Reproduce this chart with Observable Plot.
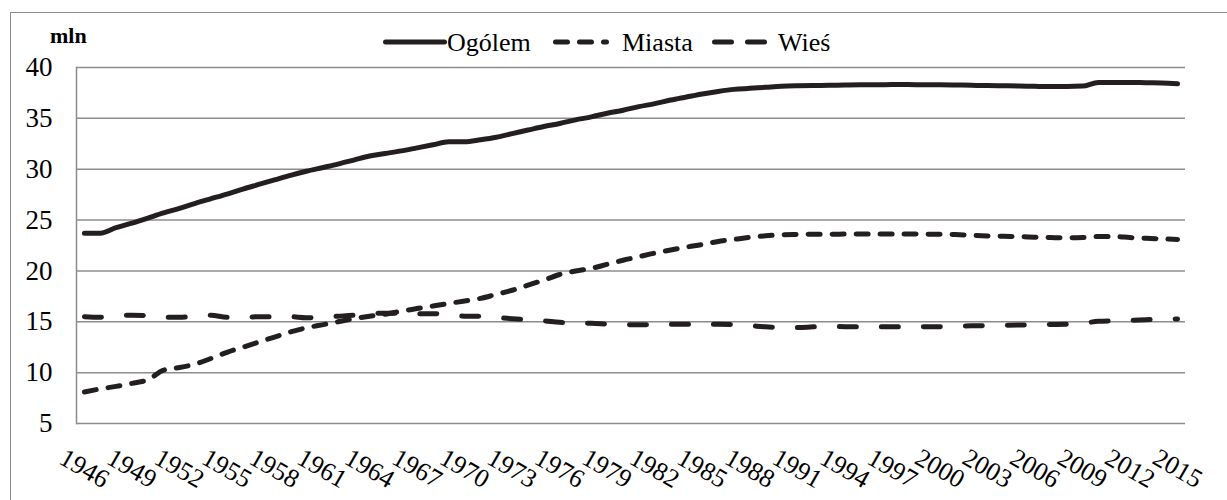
<!DOCTYPE html>
<html>
<head>
<meta charset="utf-8">
<script src="https://cdn.jsdelivr.net/npm/d3@7"></script>
<script src="https://cdn.jsdelivr.net/npm/@observablehq/plot@0.6"></script>
<style>
  body { margin: 0; background: #fff; }
  #wrap { position: relative; width: 1227px; height: 500px; overflow: hidden;
          font-family: "Liberation Serif", Tinos, "Times New Roman", "DejaVu Serif", serif; color: #000; }
  #border { position: absolute; left: 10px; top: 12px; width: 1400px; height: 700px;
            border-left: 1.5px solid #8c8c8c; border-top: 1.5px solid #8c8c8c; }
  #unit { position: absolute; left: 50px; top: 25px; font-weight: bold; font-size: 22px; line-height: 22px; }
  .leg { position: absolute; font-size: 26px; line-height: 26px; top: 30px; white-space: nowrap; }
  .sw { position: absolute; top: 37px; }
  #chart { position: absolute; left: 0; top: 0; }
  #chart svg text { font-family: "Liberation Serif", Tinos, "Times New Roman", "DejaVu Serif", serif; }
</style>
</head>
<body>
<div id="wrap">
  <div id="border"></div>
  <div id="chart"></div>
  <div id="unit">mln</div>
  <svg class="sw" style="left:383px" width="64" height="10"><line x1="2.5" y1="5" x2="61.5" y2="5" stroke="#231f20" stroke-width="5" stroke-linecap="round"/></svg>
  <div class="leg" style="left:447px">Ogólem</div>
  <svg class="sw" style="left:553px" width="56" height="10"><line x1="2.5" y1="5" x2="53.5" y2="5" stroke="#231f20" stroke-width="5" stroke-linecap="round" stroke-dasharray="12,12"/></svg>
  <div class="leg" style="left:622px">Miasta</div>
  <svg class="sw" style="left:712px" width="56" height="10"><line x1="2.5" y1="5" x2="53.5" y2="5" stroke="#231f20" stroke-width="5" stroke-linecap="round" stroke-dasharray="17,16"/></svg>
  <div class="leg" style="left:778px">Wieś</div>
</div>
<script>
const years = [1946,1947,1948,1949,1950,1951,1952,1953,1954,1955,1956,1957,1958,1959,
  1960,1961,1962,1963,1964,1965,1966,1967,1968,1969,1970,1971,1972,1973,1974,1975,1976,
  1977,1978,1979,1980,1981,1982,1983,1984,1985,1986,1987,1988,1989,1990,1991,1992,1993,
  1994,1995,1996,1997,1998,1999,2000,2001,2002,2003,2004,2005,2006,2007,2008,2009,2010,
  2011,2012,2013,2014,2015];

const tickYears = [1946,1949,1952,1955,1958,1961,1964,1967,1970,1973,1976,1979,1982,1985,
  1988,1991,1994,1997,2000,2003,2006,2009,2012,2015];

const yTicks = [5,10,15,20,25,30,35,40];

const ogolem = [23.7,23.7,24.25,24.7,25.2,25.7,26.15,26.65,27.1,27.55,28.05,28.5,28.95,29.4,
  29.8,30.15,30.5,30.9,31.3,31.55,31.8,32.1,32.4,32.7,
  32.7,32.9,33.15,33.5,33.85,34.2,34.5,34.85,35.15,35.5,35.8,36.15,36.45,36.8,37.1,37.4,
  37.65,37.85,37.95,38.05,38.15,38.2,38.23,
  38.25,38.28,38.3,38.3,38.32,38.32,38.3,38.3,38.28,38.25,38.22,38.2,38.18,38.15,38.13,
  38.13,38.17,38.53,38.53,38.53,38.5,38.48,38.4];

const miasta = [8.1,8.4,8.65,8.95,9.3,10.25,10.5,10.85,11.4,12.0,12.5,13.0,13.5,14.0,
  14.4,14.7,15.0,15.3,15.55,15.75,16.05,16.3,16.55,16.8,
  17.05,17.3,17.7,18.1,18.6,19.1,19.65,20.0,20.25,20.65,21.05,21.4,21.75,22.05,22.35,22.6,
  22.9,23.1,23.3,23.45,23.55,23.58,23.6,
  23.6,23.62,23.63,23.63,23.63,23.63,23.62,23.6,23.57,23.5,23.44,23.4,23.38,23.32,23.28,
  23.25,23.28,23.38,23.38,23.28,23.21,23.15,23.1];

const wies = [15.5,15.45,15.6,15.65,15.6,15.45,15.45,15.55,15.65,15.45,15.45,15.5,15.5,15.5,
  15.4,15.45,15.55,15.65,15.8,15.85,15.85,15.8,15.8,15.7,
  15.55,15.54,15.42,15.3,15.2,15.1,14.95,14.88,14.85,14.78,14.72,14.7,14.72,14.75,14.75,14.75,
  14.75,14.72,14.62,14.5,14.45,14.43,14.5,
  14.55,14.52,14.52,14.52,14.52,14.52,14.5,14.5,14.55,14.6,14.62,14.65,14.68,14.7,14.73,
  14.76,14.85,15.05,15.1,15.15,15.2,15.25,15.27];

const toRows = vals => years.map((year, i) => ({year, value: vals[i]}));
const lineColor = "#231f20";
const gridColor = "#8c8c8c";
const serif = '"Liberation Serif", Tinos, "Times New Roman", "DejaVu Serif", serif';

const plot = Plot.plot({
  width: 1227,
  height: 500,
  marginTop: 67,
  marginBottom: 77,
  marginLeft: 76,
  marginRight: 42,
  style: { fontFamily: serif, fontSize: "26px", background: "transparent", color: "#000", overflow: "visible" },
  x: { type: "point", domain: years, padding: 0.5, axis: null },
  y: { domain: [5, 40], axis: null },
  marks: [
    Plot.gridY(yTicks, { stroke: gridColor, strokeOpacity: 1, strokeWidth: 1.5 }),
    Plot.frame({ anchor: "left", stroke: gridColor, strokeWidth: 1.5 }),
    Plot.axisY(yTicks, { tickSize: 0, tickPadding: 24, fontSize: 27, fill: "#000", label: null, tickFormat: d => String(d) }),
    Plot.text(tickYears, { x: d => d, frameAnchor: "bottom", dy: 45, rotate: 30, text: d => String(d),
      fontSize: 26, fill: "#000", textAnchor: "middle", lineAnchor: "middle" }),
    Plot.line(toRows(wies), { x: "year", y: "value", stroke: lineColor, strokeWidth: 5,
      strokeDasharray: "17,25", strokeLinecap: "round", curve: "monotone-x" }),
    Plot.line(toRows(miasta), { x: "year", y: "value", stroke: lineColor, strokeWidth: 5,
      strokeDasharray: "12,12", strokeLinecap: "round", curve: "monotone-x" }),
    Plot.line(toRows(ogolem), { x: "year", y: "value", stroke: lineColor, strokeWidth: 5,
      strokeLinecap: "round", curve: "monotone-x" })
  ]
});
document.getElementById("chart").appendChild(plot);
</script>
</body>
</html>
